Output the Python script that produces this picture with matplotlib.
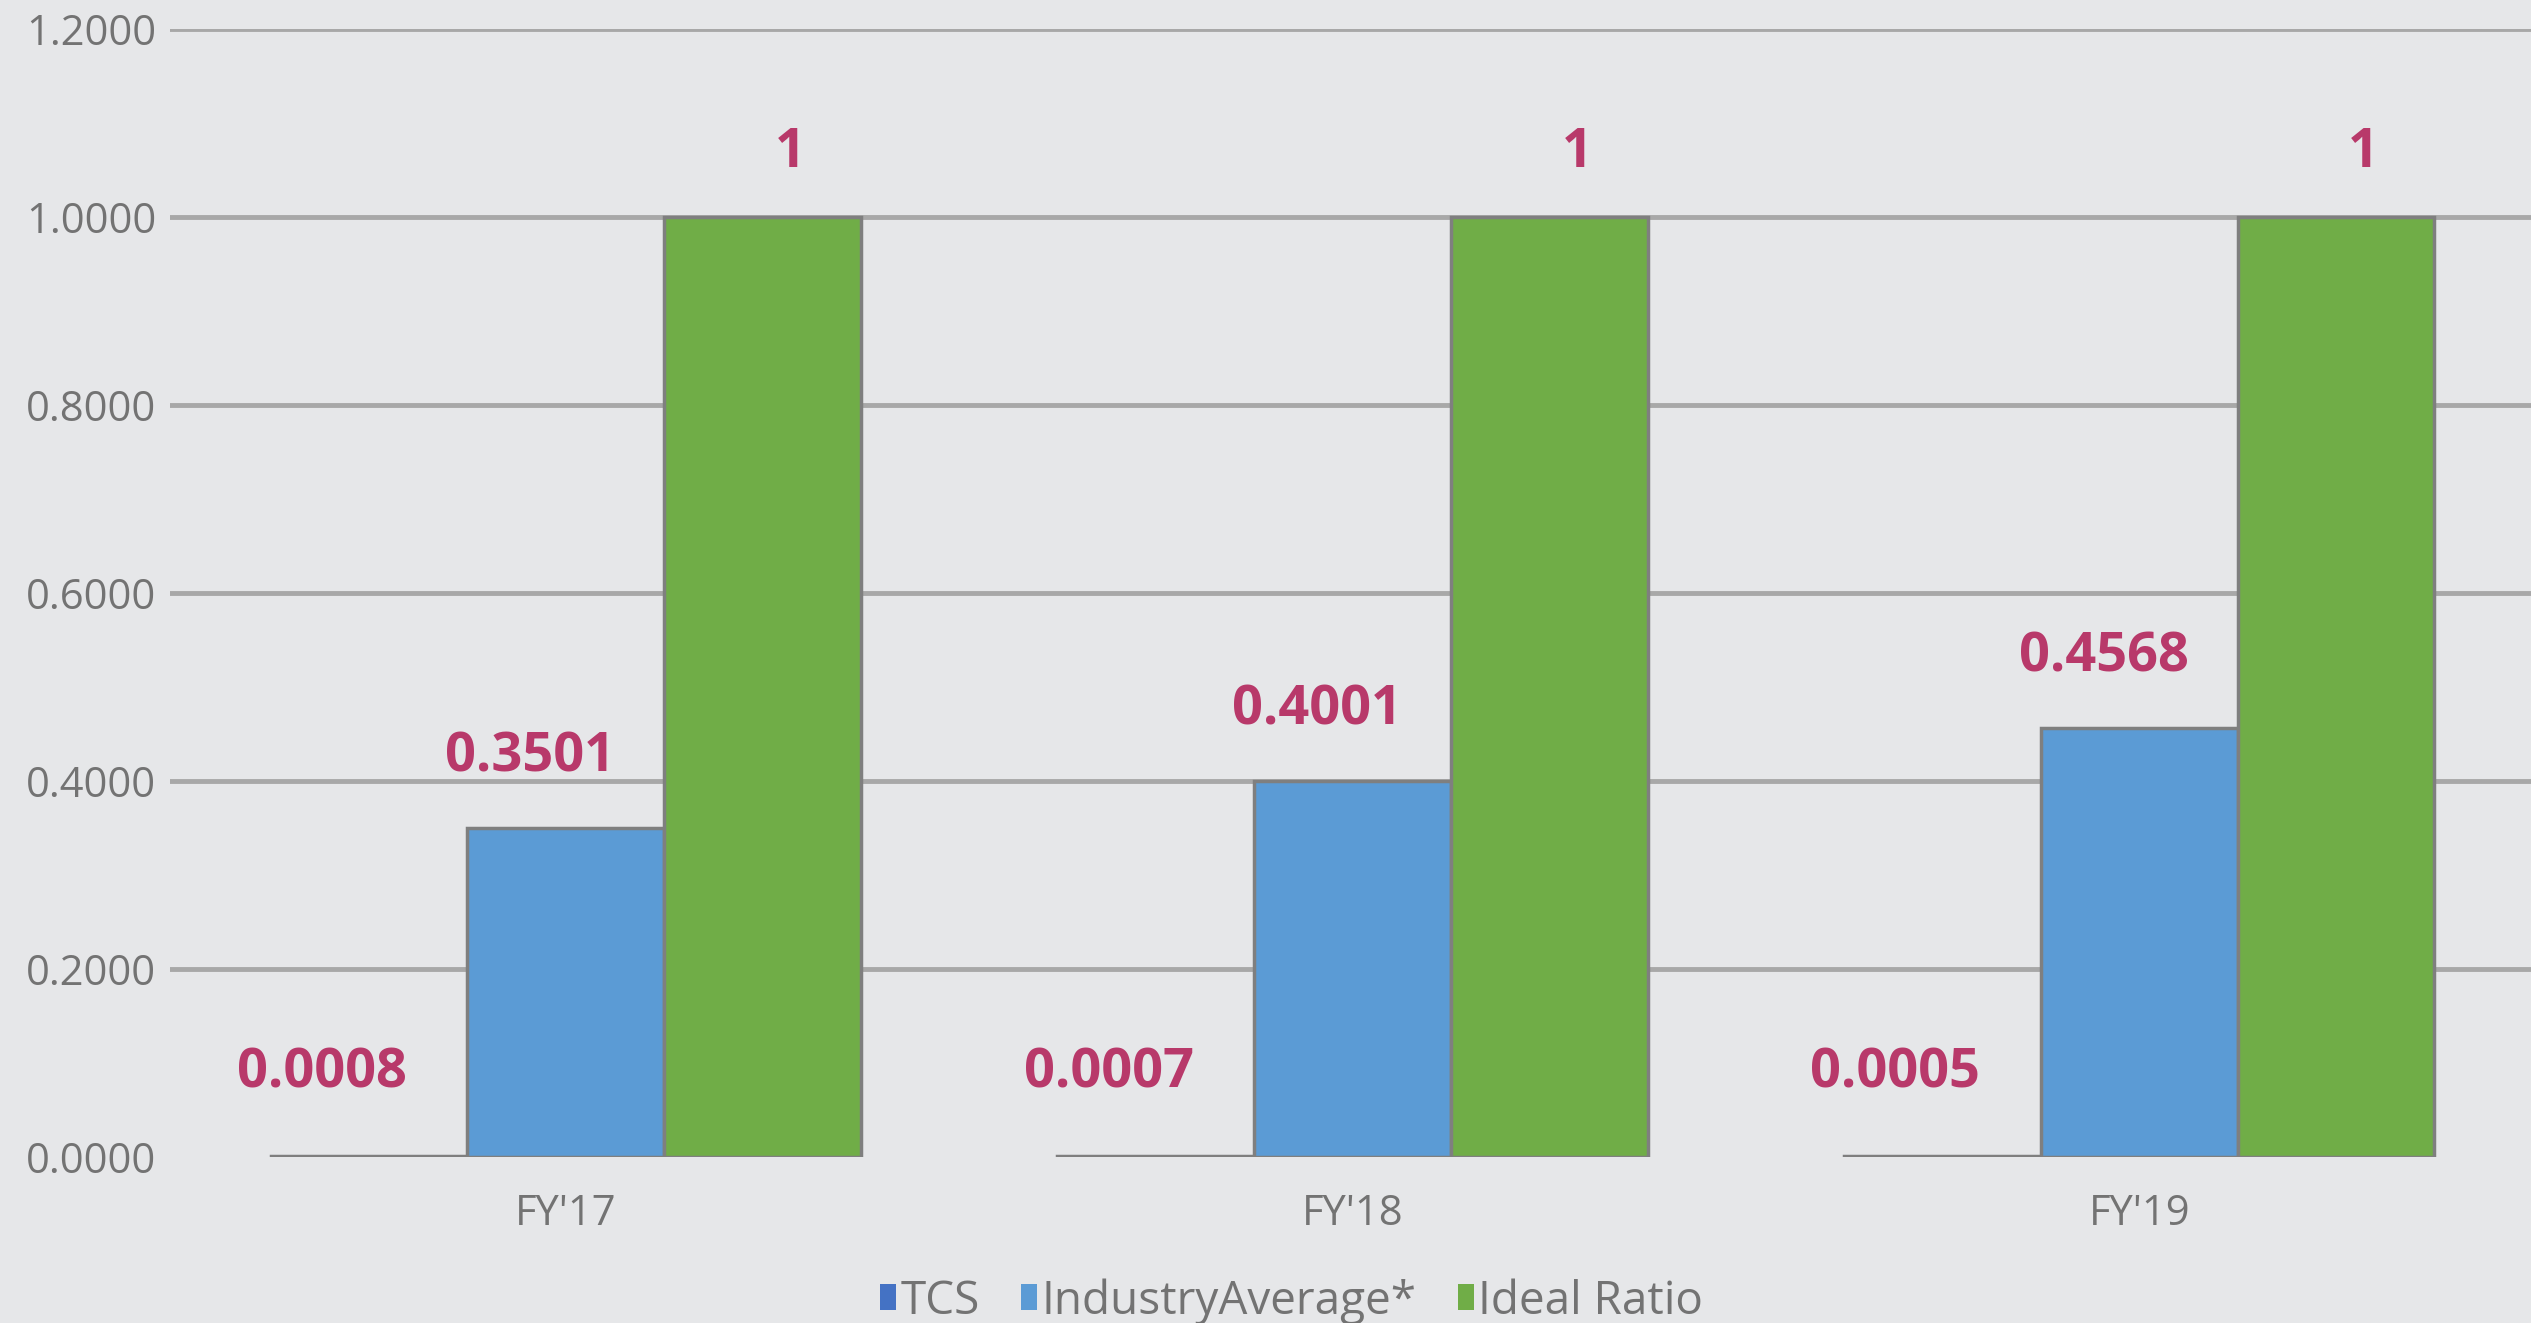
import numpy as np
import matplotlib.pyplot as plt

plt.rcParams['font.family'] = ['Open Sans', 'DejaVu Sans']

years = ["FY'17", "FY'18", "FY'19"]
tcs = [0.0008, 0.0007, 0.0005]
industry_avg = [0.3501, 0.4001, 0.4568]
ideal_ratio = [1, 1, 1]
tcs_labels = ['0.0008', '0.0007', '0.0005']
industry_labels = ['0.3501', '0.4001', '0.4568']
ideal_labels = ['1', '1', '1']
yticks = [0, 0.2, 0.4, 0.6, 0.8, 1.0, 1.2]

bg = '#e6e7e9'
lblcol = '#b8396a'

fig = plt.figure(figsize=(25.31, 13.23), dpi=100, facecolor=bg)
ax = fig.add_axes([0.0672, 0.1255, 0.9328, 0.8525], facecolor=bg)

x = np.arange(len(years))
w = 0.25
edge = dict(edgecolor='#7f7f7f', linewidth=2.5)
ax.bar(x - w, tcs, w, color='#4472c4', label='TCS', zorder=3, **edge)
ax.bar(x, industry_avg, w, color='#5b9bd5', label='IndustryAverage*', zorder=3, **edge)
ax.bar(x + w, ideal_ratio, w, color='#70ad47', label='Ideal Ratio', zorder=3, **edge)

# data labels, placed like the hand-moved labels of the original
for i in range(len(years)):
    ax.text(x[i] - 0.31, tcs[i] + 0.088, tcs_labels[i], ha='center', va='center',
            color=lblcol, fontsize=39, fontweight='bold')
    ax.text(x[i] - 0.045, industry_avg[i] + 0.075, industry_labels[i], ha='center', va='center',
            color=lblcol, fontsize=39, fontweight='bold')
    ax.text(x[i] + 0.285, ideal_ratio[i] + 0.068, ideal_labels[i], ha='center', va='center',
            color=lblcol, fontsize=39, fontweight='bold')

ax.set_xlim(-0.503, 2.498)
ax.set_ylim(0, 1.2)
ax.set_yticks(yticks)
ax.set_yticklabels(['%.4f' % t for t in yticks])
ax.set_xticks(x)
ax.set_xticklabels(years)
ax.tick_params(axis='both', length=0, labelsize=30, colors='#737373')
ax.tick_params(axis='y', pad=10)
ax.tick_params(axis='x', pad=26)
for t in yticks[1:]:
    ax.axhline(t, color='#a8a8a8', linewidth=3.5, zorder=1)
for s in ax.spines.values():
    s.set_visible(False)

leg = ax.legend(loc='center', bbox_to_anchor=(0.475, -0.128), ncol=3, frameon=False,
                fontsize=33, handlelength=0.35, handleheight=0.5, handletextpad=0.1,
                columnspacing=0.9)
for t in leg.get_texts():
    t.set_color('#737373')
for h in leg.legend_handles:
    h.set_linewidth(0)

fig.savefig('out.png', dpi=100, facecolor=bg)
